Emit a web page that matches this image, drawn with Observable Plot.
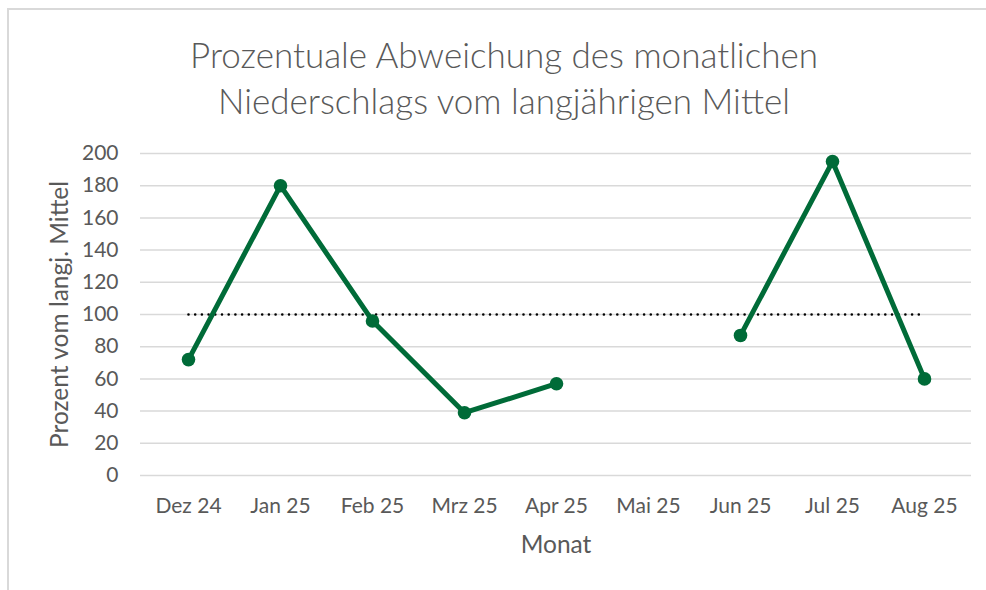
<!DOCTYPE html>
<html>
<head>
<meta charset="utf-8">
<script src="https://cdn.jsdelivr.net/npm/d3@7"></script>
<script src="https://cdn.jsdelivr.net/npm/@observablehq/plot@0.6"></script>
<style>
  html, body { margin: 0; padding: 0; background: #fff; }
  #wrap { position: relative; width: 986px; height: 590px; overflow: hidden; font-family: Lato, "Open Sans", sans-serif; }
  #border { position: absolute; left: 7px; top: 8px; width: 990px; height: 600px; border-left: 2px solid #d9d9d9; border-top: 2px solid #d9d9d9; box-sizing: border-box; }
  #title { position: relative; height: 140px; box-sizing: border-box; padding-top: 31px; width: 1008px; text-align: center; font-size: 35px; font-weight: 300; line-height: 46px; color: #595959; }
  #chart { position: relative; }
</style>
</head>
<body>
<div id="wrap">
  <div id="border"></div>
  <div id="title">Prozentuale Abweichung des monatlichen<br>Niederschlags vom langjährigen Mittel</div>
  <div id="chart"></div>
</div>
<script>
const months = ["Dez 24", "Jan 25", "Feb 25", "Mrz 25", "Apr 25", "Mai 25", "Jun 25", "Jul 25", "Aug 25"];
const percent = [72, 180, 96, 39, 57, null, 87, 195, 60];
const reference = [100, 100, 100, 100, 100, 100, 100, 100, 100];
const yTicks = [0, 20, 40, 60, 80, 100, 120, 140, 160, 180, 200];
const xLabel = "Monat";
const yLabel = "Prozent vom langj. Mittel";

const data = months.map((m, i) => ({month: m, value: percent[i], ref: reference[i]}));
const points = data.filter(d => d.value != null);

const plot = Plot.plot({
  width: 986,
  height: 450,
  marginTop: 13,
  marginBottom: 115,
  marginLeft: 140,
  marginRight: 15,
  style: {fontFamily: "Lato, 'Open Sans', sans-serif", fontSize: "21px", color: "#595959", background: "transparent", overflow: "visible"},
  x: {type: "point", domain: months, padding: 0.5, label: null},
  y: {domain: [0, 200], label: null},
  marks: [
    Plot.gridY(yTicks, {stroke: "#d9d9d9", strokeOpacity: 1, strokeWidth: 1.5}),
    Plot.axisY(yTicks, {tickSize: 0, tickPadding: 22, label: null, fill: "#595959"}),
    Plot.axisX({tickSize: 0, tickPadding: 23, label: null, fill: "#595959"}),
    Plot.lineY(data, {x: "month", y: "ref", stroke: "#000", strokeWidth: 2.6, strokeDasharray: "0 6.7", strokeLinecap: "round"}),
    Plot.lineY(data, {x: "month", y: "value", stroke: "#006B38", strokeWidth: 5, strokeLinejoin: "round"}),
    Plot.dot(points, {x: "month", y: "value", r: 6.8, fill: "#006B38", stroke: "none"}),
    Plot.text([xLabel], {frameAnchor: "bottom", dy: 70, lineAnchor: "middle", textAnchor: "middle", fontSize: 24.5, fill: "#595959"}),
    Plot.text([yLabel], {frameAnchor: "left", dx: -80, rotate: -90, lineAnchor: "middle", textAnchor: "middle", fontSize: 24.5, fill: "#595959"})
  ]
});
document.getElementById("chart").appendChild(plot);
</script>
</body>
</html>
